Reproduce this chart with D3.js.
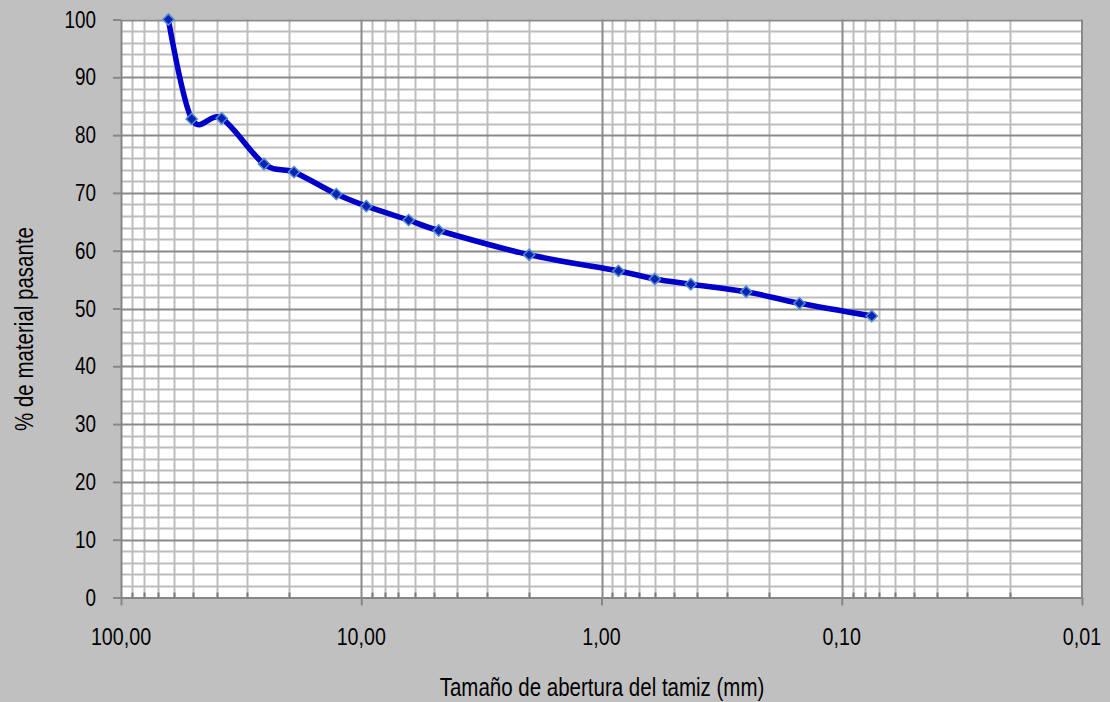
<!DOCTYPE html>
<html>
<head>
<meta charset="utf-8">
<script src="https://cdn.jsdelivr.net/npm/d3@7"></script>
<style>
  html, body { margin: 0; padding: 0; background: #c0c0c0; }
  svg { display: block; }
  text { font-family: "Liberation Sans", Arial, sans-serif; fill: #000; }
</style>
</head>
<body>
<svg id="chart" width="1110" height="702"></svg>
<script>
// Sieve openings (mm) and cumulative percent passing
const sieveSizes = [63.5, 50.8, 38.1, 25.4, 19.05, 12.7, 9.525, 6.35, 4.76, 2.0, 0.85, 0.6, 0.425, 0.25, 0.15, 0.075];
const percentPassing = [100, 82.8, 82.9, 75.0, 73.6, 69.8, 67.7, 65.3, 63.5, 59.3, 56.5, 55.1, 54.2, 52.9, 50.9, 48.7];

const xTickValues = [100, 10, 1, 0.1, 0.01];
const yTickValues = [0, 10, 20, 30, 40, 50, 60, 70, 80, 90, 100];

const xTitle = "Tamaño de abertura del tamiz (mm)";
const yTitle = "% de material pasante";

const svg = d3.select("#chart");
const W = 1110, H = 702;
const plot = { left: 121, right: 1082, top: 19.5, bottom: 597.5 };
const NARROW = 0.82; // condensed lettering

svg.append("rect").attr("width", W).attr("height", H).attr("fill", "#c0c0c0");

// Log scale, coarse sizes on the left
const x = d3.scaleLog().domain([100, 0.01]).range([plot.left, plot.right]);
const y = d3.scaleLinear().domain([0, 100]).range([plot.bottom, plot.top]);

// Plot area
svg.append("rect")
  .attr("x", plot.left).attr("y", plot.top)
  .attr("width", plot.right - plot.left).attr("height", plot.bottom - plot.top)
  .attr("fill", "#ffffff");

// Minor log positions: 2..9 within each decade
const minorX = [];
[10, 1, 0.1, 0.01].forEach(base => {
  for (let k = 2; k <= 9; k++) minorX.push(base * k);
});
const minorY = d3.range(0, 101, 2).filter(v => v % 10 !== 0);

const px = v => Math.round(x(v)) + 0.5;
const py = v => Math.round(y(v)) + 0.5;

const grid = svg.append("g");
grid.selectAll(".vminor").data(minorX).join("line")
  .attr("x1", px).attr("x2", px)
  .attr("y1", plot.top).attr("y2", plot.bottom)
  .attr("stroke", "#bdbdbd").attr("stroke-width", 2);
grid.selectAll(".hminor").data(minorY).join("line")
  .attr("x1", plot.left).attr("x2", plot.right)
  .attr("y1", py).attr("y2", py)
  .attr("stroke", "#bdbdbd").attr("stroke-width", 2);
grid.selectAll(".hmajor").data(yTickValues.filter(v => v > 0)).join("line")
  .attr("x1", plot.left).attr("x2", plot.right)
  .attr("y1", py).attr("y2", py)
  .attr("stroke", "#8a8a8a").attr("stroke-width", 2);
grid.selectAll(".vmajor").data(xTickValues.slice(1, 4)).join("line")
  .attr("x1", px).attr("x2", px)
  .attr("y1", plot.top).attr("y2", plot.bottom)
  .attr("stroke", "#8a8a8a").attr("stroke-width", 2);

// Inside minor ticks on the x axis
grid.selectAll(".xminortick").data(minorX).join("line")
  .attr("x1", px).attr("x2", px)
  .attr("y1", plot.bottom - 5).attr("y2", plot.bottom)
  .attr("stroke", "#7a7a7a").attr("stroke-width", 2);

// Right edge of the plot area
svg.append("line")
  .attr("x1", plot.right).attr("x2", plot.right)
  .attr("y1", plot.top).attr("y2", plot.bottom)
  .attr("stroke", "#8a8a8a").attr("stroke-width", 2);

// Axes (lines and ticks from d3-axis, labels set below in condensed type)
const fmtX = d => d3.format(".2f")(d).replace(".", ",");
const xAxis = d3.axisBottom(x).tickValues(xTickValues).tickFormat("")
  .tickSizeOuter(0).tickSizeInner(8);
const gx = svg.append("g").attr("transform", `translate(0,${plot.bottom})`).call(xAxis);
gx.select(".domain").attr("stroke", "#868686").attr("stroke-width", 2);
gx.selectAll(".tick line").attr("stroke", "#868686").attr("stroke-width", 2);
gx.selectAll(".tick text").remove();

const yAxis = d3.axisLeft(y).tickValues(yTickValues).tickFormat("")
  .tickSizeOuter(0).tickSizeInner(8);
const gy = svg.append("g").attr("transform", `translate(${plot.left},0)`).call(yAxis);
gy.select(".domain").attr("stroke", "#868686").attr("stroke-width", 2);
gy.selectAll(".tick line").attr("stroke", "#868686").attr("stroke-width", 2);
gy.selectAll(".tick text").remove();

svg.append("g").selectAll("text").data(xTickValues).join("text")
  .attr("transform", d => `translate(${x(d)},645) scale(${NARROW},1)`)
  .attr("text-anchor", "middle").attr("font-size", 24)
  .text(fmtX);

svg.append("g").selectAll("text").data(yTickValues).join("text")
  .attr("transform", d => `translate(96,${y(d) + 8}) scale(${NARROW},1)`)
  .attr("text-anchor", "end").attr("font-size", 23)
  .text(d => d);

// Grading curve
const pts = sieveSizes.map((s, i) => [s, percentPassing[i]]);
const line = d3.line()
  .x(d => x(d[0])).y(d => y(d[1]))
  .curve(d3.curveCatmullRom.alpha(0));
svg.append("path").datum(pts)
  .attr("d", line)
  .attr("fill", "none")
  .attr("stroke", "#0000c8")
  .attr("stroke-width", 5.5)
  .attr("stroke-linejoin", "round");

const diamond = d3.symbol().type(d3.symbolDiamond2).size(80);
svg.append("g").selectAll("path").data(pts).join("path")
  .attr("transform", d => `translate(${x(d[0])},${y(d[1])})`)
  .attr("d", diamond)
  .attr("fill", "#0a23b4")
  .attr("stroke", "#4f8cd0")
  .attr("stroke-width", 1.5);

// Axis titles
svg.append("text")
  .attr("transform", `translate(602,696) scale(${NARROW},1)`)
  .attr("text-anchor", "middle").attr("font-size", 25)
  .text(xTitle);
svg.append("text")
  .attr("transform", `translate(33,329) rotate(-90) scale(${NARROW},1)`)
  .attr("text-anchor", "middle").attr("font-size", 25)
  .text(yTitle);
</script>
</body>
</html>
